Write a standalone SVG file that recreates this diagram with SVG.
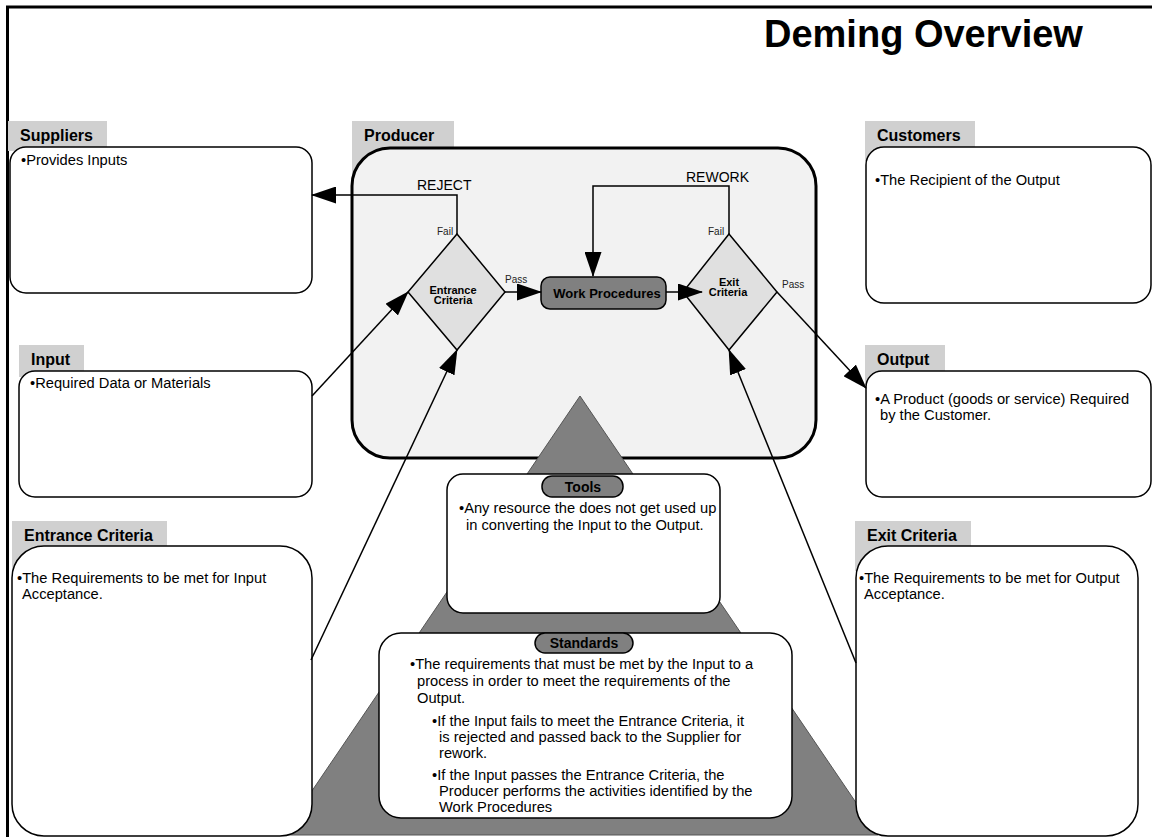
<svg xmlns="http://www.w3.org/2000/svg" width="1152" height="837" viewBox="0 0 1152 837">
  <style>
    .frame { fill: none; stroke: #000; stroke-width: 3; }
    .title { font: bold 38px "Liberation Sans", Arial, sans-serif; fill: #000; }
    .tab { fill: #d0d0d0; }
    .tabtxt { font: bold 16px "Liberation Sans", Arial, sans-serif; fill: #000; }
    .box { fill: #fff; stroke: #000; stroke-width: 1.5; }
    .body { font: 14.7px "Liberation Sans", Arial, sans-serif; fill: #000; }
    .producer { fill: #f2f2f2; stroke: #000; stroke-width: 3; }
    .diamond { fill: #e0e0e0; stroke: #000; stroke-width: 1.5; }
    .dtxt { font: bold 11px "Liberation Sans", Arial, sans-serif; fill: #000; text-anchor: middle; }
    .pill { fill: #808080; stroke: #000; stroke-width: 1.5; }
    .pilltxt { font: bold 14px "Liberation Sans", Arial, sans-serif; fill: #000; text-anchor: middle; }
    .small { font: 10px "Liberation Sans", Arial, sans-serif; fill: #222; }
    .loop { font: 14px "Liberation Sans", Arial, sans-serif; fill: #000; }
    .pyramid { fill: #808080; stroke: #555; stroke-width: 1; }
    .conn { fill: none; stroke: #000; stroke-width: 1.5; marker-end: url(#arrow); }
  </style>
  <defs>
    <marker id="arrow" markerUnits="userSpaceOnUse" markerWidth="25" markerHeight="17" refX="24" refY="8.5" orient="auto">
      <path d="M0,0 L25,8.5 L0,17 z" fill="#000"/>
    </marker>
  </defs>

  <rect x="0" y="0" width="1152" height="837" fill="#fff"/>

  <!-- page frame and heading -->
  <path class="frame" d="M6,7 H1152 M7.5,7 V837"/>
  <text class="title" x="764" y="47">Deming Overview</text>

  <!-- producer -->
  <g id="producer">
    <rect class="tab" x="352" y="121" width="102" height="60"/>
    <text class="tabtxt" x="364" y="141">Producer</text>
    <rect class="producer" x="352" y="148" width="464" height="310" rx="38"/>
  </g>

  <!-- pyramid backdrop for tools and standards -->
  <g id="pyramid">
    <polygon class="pyramid" points="580,396 878,835 282,835"/>
  </g>

  <g id="suppliers">
    <rect class="tab" x="8" y="121" width="99" height="30"/>
    <text class="tabtxt" x="20" y="141">Suppliers</text>
    <rect class="box" x="10" y="147" width="302" height="146" rx="16"/>
    <text class="body" x="21" y="165">•Provides Inputs</text>
  </g>

  <g id="customers">
    <rect class="tab" x="865" y="121" width="110" height="40"/>
    <text class="tabtxt" x="877" y="141">Customers</text>
    <rect class="box" x="866" y="147" width="285" height="156" rx="18"/>
    <text class="body" x="875" y="185">•The Recipient of the Output</text>
  </g>

  <g id="input">
    <rect class="tab" x="19" y="345" width="65" height="32"/>
    <text class="tabtxt" x="31" y="365">Input</text>
    <rect class="box" x="19" y="371" width="293" height="126" rx="16"/>
    <text class="body" x="30" y="388">•Required Data or Materials</text>
  </g>

  <g id="output">
    <rect class="tab" x="865" y="345" width="80" height="40"/>
    <text class="tabtxt" x="877" y="365">Output</text>
    <rect class="box" x="866" y="371" width="285" height="126" rx="16"/>
    <text class="body" x="875" y="404">•A Product (goods or service) Required</text>
    <text class="body" x="880" y="420">by the Customer.</text>
  </g>

  <g id="entrance-criteria">
    <rect class="tab" x="12" y="521" width="155" height="50"/>
    <text class="tabtxt" x="24" y="541">Entrance Criteria</text>
    <rect class="box" x="12" y="546" width="300" height="290" rx="32"/>
    <text class="body" x="17" y="583">•The Requirements to be met for Input</text>
    <text class="body" x="22" y="599">Acceptance.</text>
  </g>

  <g id="exit-criteria">
    <rect class="tab" x="855" y="521" width="116" height="50"/>
    <text class="tabtxt" x="867" y="541">Exit Criteria</text>
    <rect class="box" x="856" y="546" width="282" height="290" rx="32"/>
    <text class="body" x="859" y="583">•The Requirements to be met for Output</text>
    <text class="body" x="864" y="599">Acceptance.</text>
  </g>

  <g id="tools">
    <rect class="box" x="447" y="474" width="273" height="139" rx="16"/>
    <rect class="pill" x="542" y="476" width="81" height="21" rx="10"/>
    <text class="pilltxt" x="583" y="492">Tools</text>
    <text class="body" x="459" y="513">•Any resource the does not get used up</text>
    <text class="body" x="466" y="530">in converting the Input to the Output.</text>
  </g>

  <g id="standards">
    <rect class="box" x="379" y="633" width="413" height="185" rx="22"/>
    <rect class="pill" x="535" y="633" width="98" height="20" rx="10"/>
    <text class="pilltxt" x="584" y="648">Standards</text>
    <text class="body" x="410" y="669">•The requirements that must be met by the Input to a</text>
    <text class="body" x="417" y="686">process in order to meet the requirements of the</text>
    <text class="body" x="417" y="703">Output.</text>
    <text class="body" x="432" y="726">•If the Input fails to meet the Entrance Criteria, it</text>
    <text class="body" x="439" y="742">is rejected and passed back to the Supplier for</text>
    <text class="body" x="439" y="758">rework.</text>
    <text class="body" x="432" y="780">•If the Input passes the Entrance Criteria, the</text>
    <text class="body" x="439" y="796">Producer performs the activities identified by the</text>
    <text class="body" x="439" y="812">Work Procedures</text>
  </g>

  <g id="entrance-gate">
    <polygon class="diamond" points="457,234 505,292 457,350 408,292"/>
    <text class="dtxt" x="453" y="294">Entrance</text>
    <text class="dtxt" x="453" y="304">Criteria</text>
  </g>

  <g id="work-procedures">
    <rect class="pill" x="541" y="277" width="125" height="32" rx="9"/>
    <text class="pilltxt" x="607" y="298" style="font-size:13px">Work Procedures</text>
  </g>

  <g id="exit-gate">
    <polygon class="diamond" points="729,234 777,292 729,350 683,292"/>
    <text class="dtxt" x="729" y="286">Exit</text>
    <text class="dtxt" x="728" y="296">Criteria</text>
  </g>

  <!-- connectors -->
  <g id="connectors">
    <path class="conn" d="M457,234 V195 H312"/>
    <path class="conn" d="M729,234 V186 H593 V276"/>
    <path class="conn" d="M505,292 H541"/>
    <path class="conn" d="M666,292 H702"/>
    <path class="conn" d="M777,292 L866,388"/>
    <path class="conn" d="M312,396 L408,292"/>
    <path class="conn" d="M311,660 L457,350"/>
    <path class="conn" d="M856,663 L729,350"/>
    <text class="loop" x="417" y="190">REJECT</text>
    <text class="loop" x="686" y="182">REWORK</text>
    <text class="small" x="437" y="235">Fail</text>
    <text class="small" x="708" y="235">Fail</text>
    <text class="small" x="505" y="283">Pass</text>
    <text class="small" x="782" y="288">Pass</text>
  </g>
</svg>
